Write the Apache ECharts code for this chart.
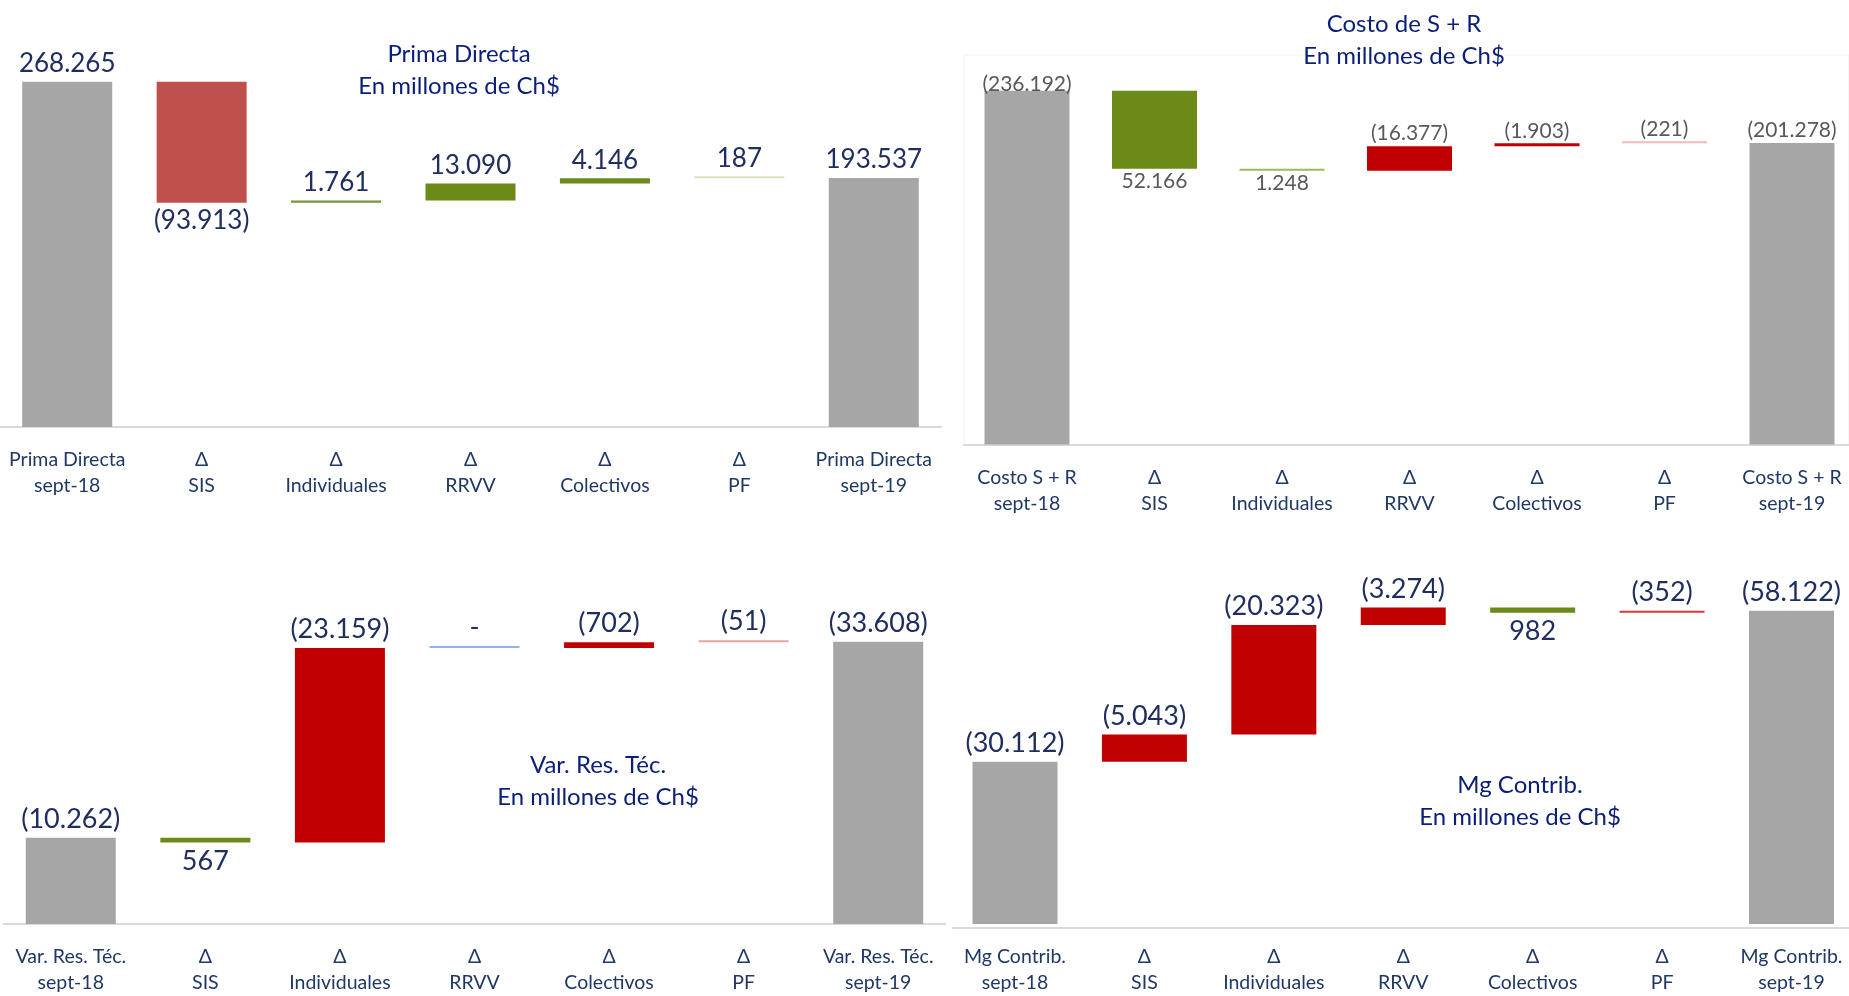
<!DOCTYPE html>
<html>
<head>
<meta charset="utf-8">
<script src="https://cdn.jsdelivr.net/npm/echarts@6/dist/echarts.min.js"></script>
<style>
html,body{margin:0;padding:0;background:#fff;}
#c{width:1849px;height:996px;}
</style>
</head>
<body>
<div id="c"></div>
<script>
// ---------- DATA ----------
const categoriesPrima = ['Prima Directa\nsept-18','Δ\nSIS','Δ\nIndividuales','Δ\nRRVV','Δ\nColectivos','Δ\nPF','Prima Directa\nsept-19'];
const valuesPrima = [268265, -93913, 1761, 13090, 4146, 187, 193537];

const categoriesCosto = ['Costo S + R\nsept-18','Δ\nSIS','Δ\nIndividuales','Δ\nRRVV','Δ\nColectivos','Δ\nPF','Costo S + R\nsept-19'];
const valuesCosto = [-236192, 52166, 1248, -16377, -1903, -221, -201278];

const categoriesVarRes = ['Var. Res. Téc.\nsept-18','Δ\nSIS','Δ\nIndividuales','Δ\nRRVV','Δ\nColectivos','Δ\nPF','Var. Res. Téc.\nsept-19'];
const valuesVarRes = [-10262, 567, -23159, 0, -702, -51, -33608];

const categoriesMg = ['Mg Contrib.\nsept-18','Δ\nSIS','Δ\nIndividuales','Δ\nRRVV','Δ\nColectivos','Δ\nPF','Mg Contrib.\nsept-19'];
const valuesMg = [-30112, -5043, -20323, -3274, 982, -352, -58122];

const titlePrima = 'Prima Directa\nEn millones de Ch$';
const titleCosto = 'Costo de S + R\nEn millones de Ch$';
const titleVarRes = 'Var. Res. Téc.\nEn millones de Ch$';
const titleMg = 'Mg Contrib.\nEn millones de Ch$';

// ---------- STYLES / LAYOUT ----------
const GRAY = '#A6A6A6';
const panels = [
  {cats: categoriesPrima, vals: valuesPrima, title: titlePrima,
   grid: {left: 0, top: 41, width: 941, height: 386}, boundaryGap: true, max: 300000, barWidth: 90,
   colors: [GRAY, '#C0504D', '#77933C', '#6B8A17', '#6B8A17', '#D7E4BD', GRAY],
   labelColor: '#1F2D60', labelSize: 26, dist: 5, firstDist: 5,
   titlePos: {x: 454, y: 33}},
  {cats: categoriesCosto, vals: valuesCosto, title: titleCosto,
   grid: {left: 1027, top: 55, width: 765, height: 389.5}, boundaryGap: false, max: 260000, barWidth: 85,
   lineGrid: {left: 964, top: 55, width: 885, height: 389.5, show: true, borderColor: '#EFEFEF', borderWidth: 1},
   colors: [GRAY, '#6B8A17', '#9BBB59', '#C00000', '#C00000', '#F2B8B8', GRAY],
   labelColor: '#595959', labelSize: 21, dist: 2, firstDist: -4,
   titlePos: {x: 1399, y: 3}},
  {cats: categoriesVarRes, vals: valuesVarRes, title: titleVarRes,
   grid: {left: 3.5, top: 546, width: 942, height: 382}, boundaryGap: true, max: 45000, barWidth: 90,
   colors: [GRAY, '#6B8A17', '#C00000', '#8DB4E2', '#C00000', '#F2A0A0', GRAY],
   labelColor: '#1F2D60', labelSize: 27, dist: 5, firstDist: 5,
   titlePos: {x: 593, y: 744}},
  {cats: categoriesMg, vals: valuesMg, title: titleMg,
   grid: {left: 1015, top: 493, width: 776.5, height: 435}, boundaryGap: false, max: 80000, barWidth: 85,
   lineGrid: {left: 953, top: 493, width: 896, height: 435},
   colors: [GRAY, '#C00000', '#C00000', '#C00000', '#6B8A17', '#D83A3A', GRAY],
   labelColor: '#1F2D60', labelSize: 27, dist: 5, firstDist: 5,
   titlePos: {x: 1515, y: 764}}
];

function sep(n){ return String(n).replace(/\B(?=(\d{3})+(?!\d))/g, '.'); }
function fmt(v){ return v === 0 ? '-' : (v < 0 ? '(' + sep(-v) + ')' : sep(v)); }

const FONT = 'Lato';
const AXIS_LINE = {lineStyle: {color: '#D9D9D9', width: 2}};
const option = {
  animation: false,
  backgroundColor: '#fff',
  textStyle: {fontFamily: FONT},
  title: [], grid: [], xAxis: [], yAxis: [], series: []
};

panels.forEach((p, i) => {
  option.title.push({
    text: p.title, left: p.titlePos.x, top: p.titlePos.y, textAlign: 'center',
    textStyle: {fontFamily: FONT, fontSize: 24, lineHeight: 32, fontWeight: 'normal', color: '#0A1F78'}
  });
  option.grid.push(Object.assign({containLabel: false}, p.grid));
  option.xAxis.push({
    type: 'category', gridIndex: i, data: p.cats, boundaryGap: p.boundaryGap,
    axisTick: {show: false},
    axisLine: p.boundaryGap ? AXIS_LINE : {show: false},
    axisLabel: {interval: 0, fontFamily: FONT, fontSize: 19.5, lineHeight: 26, color: '#1F3864', margin: 20}
  });
  option.yAxis.push({type: 'value', gridIndex: i, min: 0, max: p.max, show: false, splitLine: {show: false}});

  const base = [], vis = [];
  let running = p.vals[0];
  const last = p.vals.length - 1;
  p.vals.forEach((v, k) => {
    if (k === 0 || k === last) {
      base.push(0);
      vis.push({value: Math.abs(v), itemStyle: {color: p.colors[k]},
        label: {position: 'top', formatter: fmt(v), distance: k === 0 ? p.firstDist : p.dist}});
    } else {
      const start = running, end = running + v;
      running = end;
      const a = Math.abs(start), b = Math.abs(end);
      base.push(Math.min(a, b));
      vis.push({value: Math.abs(b - a), itemStyle: {color: p.colors[k]},
        label: {position: b >= a ? 'top' : 'bottom', formatter: fmt(v)}});
    }
  });
  option.series.push({
    type: 'bar', xAxisIndex: i, yAxisIndex: i, stack: 's' + i, data: base,
    barWidth: p.barWidth, itemStyle: {color: 'transparent'}, silent: true, label: {show: false}
  });
  option.series.push({
    type: 'bar', xAxisIndex: i, yAxisIndex: i, stack: 's' + i, data: vis,
    barWidth: p.barWidth, barMinHeight: 2, z: 3,
    label: {show: true, color: p.labelColor, fontSize: p.labelSize, fontFamily: FONT, distance: p.dist}
  });
});

// Full-length baseline axes for the right-hand panels (bands there are spaced wider than the canvas allows)
panels.forEach((p) => {
  if (!p.lineGrid) return;
  const gi = option.grid.length;
  option.grid.push(Object.assign({containLabel: false, z: 0}, p.lineGrid));
  option.xAxis.push({type: 'value', gridIndex: gi, min: 0, max: 1, axisLine: Object.assign({show: true, onZero: false}, AXIS_LINE),
    axisTick: {show: false}, axisLabel: {show: false}, splitLine: {show: false}});
  option.yAxis.push({type: 'value', gridIndex: gi, min: 0, max: 1, show: false, splitLine: {show: false}});
});

const chart = echarts.init(document.getElementById('c'));
chart.setOption(option);
</script>
</body>
</html>
